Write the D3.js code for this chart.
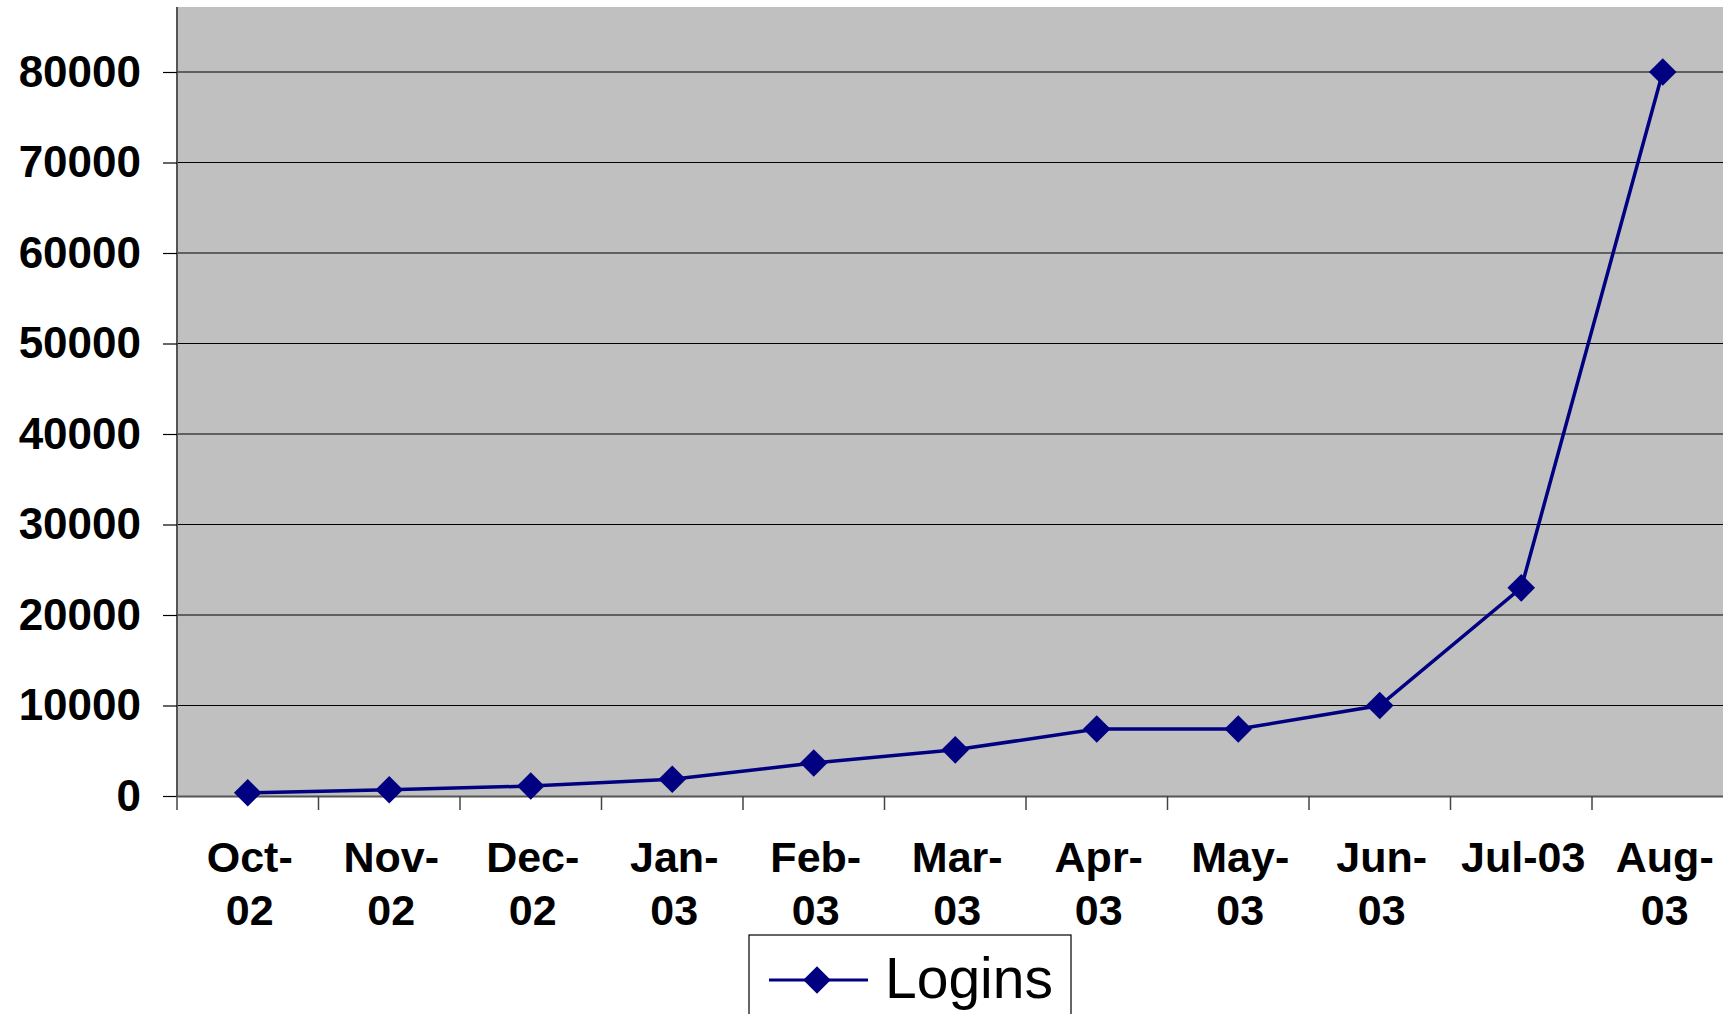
<!DOCTYPE html>
<html>
<head>
<meta charset="utf-8">
<script src="https://d3js.org/d3.v7.min.js"></script>
<style>
  body { margin: 0; background: #fff; }
  svg { display: block; }
</style>
</head>
<body>
<div id="chart"></div>
<script>
// Chart data
const months = ["Oct-02", "Nov-02", "Dec-02", "Jan-03", "Feb-03", "Mar-03",
                "Apr-03", "May-03", "Jun-03", "Jul-03", "Aug-03"];
const monthLabels = [["Oct-", "02"], ["Nov-", "02"], ["Dec-", "02"], ["Jan-", "03"],
                     ["Feb-", "03"], ["Mar-", "03"], ["Apr-", "03"], ["May-", "03"],
                     ["Jun-", "03"], ["Jul-03"], ["Aug-", "03"]];
const logins = [350, 700, 1100, 1850, 3650, 5100, 7400, 7400, 10000, 23000, 80000];
const yTicks = [0, 10000, 20000, 30000, 40000, 50000, 60000, 70000, 80000];
const seriesName = "Logins";

// Layout
const width = 1723;
const height = 1014;
const plotLeft = 177;
const plotTop = 7;
const bandStep = 141.5;
const plotRight = plotLeft + months.length * bandStep;
const plotBottom = 796;
const lineColor = "#000080";
const labelFont = "'Liberation Sans', Arial, sans-serif";

const svg = d3.select("#chart")
    .append("svg")
    .attr("width", width)
    .attr("height", height);

const x = d3.scaleBand()
    .domain(months)
    .range([plotLeft, plotRight])
    .padding(0);

const y = d3.scaleLinear()
    .domain([0, 80000])
    .range([plotBottom, 72]);

// Plot background
svg.append("rect")
    .attr("x", plotLeft)
    .attr("y", plotTop)
    .attr("width", plotRight - plotLeft)
    .attr("height", plotBottom - plotTop)
    .style("fill", "#c0c0c0");

// Gridlines
svg.append("g")
    .selectAll("line")
    .data(yTicks.filter(d => d > 0))
    .enter()
    .append("line")
    .attr("x1", plotLeft)
    .attr("x2", plotRight)
    .attr("y1", d => y(d))
    .attr("y2", d => y(d))
    .style("stroke", "#000")
    .style("stroke-width", 1.2);

// Y axis
const yAxis = svg.append("g")
    .attr("transform", `translate(${plotLeft},0)`)
    .call(d3.axisLeft(y).tickValues(yTicks).tickSize(14).tickPadding(22).tickFormat(d3.format("d")));
yAxis.select(".domain")
    .attr("d", `M0,${plotTop}V${plotBottom}`)
    .style("stroke", "#555")
    .style("stroke-width", 2);
yAxis.selectAll(".tick line").style("stroke", "#000").style("stroke-width", 1.2);
yAxis.selectAll(".tick text")
    .style("font-family", labelFont)
    .style("font-weight", "bold")
    .style("font-size", "44px")
    .style("fill", "#000");

// X axis
const xAxis = svg.append("g")
    .attr("transform", `translate(0,${plotBottom})`)
    .call(d3.axisBottom(x).tickSize(0).tickFormat(""));
xAxis.select(".domain")
    .style("stroke", "#555")
    .style("stroke-width", 2);
xAxis.selectAll(".tick").remove();

// Category boundary ticks
svg.append("g")
    .selectAll("line")
    .data(months)
    .enter()
    .append("line")
    .attr("x1", d => x(d))
    .attr("x2", d => x(d))
    .attr("y1", plotBottom)
    .attr("y2", plotBottom + 14)
    .style("stroke", "#444")
    .style("stroke-width", 1.5);

// Category labels (two lines)
const labels = svg.append("g")
    .selectAll("text")
    .data(months)
    .enter()
    .append("text")
    .attr("text-anchor", "middle")
    .style("font-family", labelFont)
    .style("font-weight", "bold")
    .style("font-size", "43px")
    .style("fill", "#000");

labels.each(function (d, i) {
    const t = d3.select(this);
    monthLabels[i].forEach((line, j) => {
        t.append("tspan")
            .attr("x", x(d) + x.bandwidth() / 2 + 2)
            .attr("y", 872 + j * 53)
            .text(line);
    });
});

// Line
const line = d3.line()
    .x((d, i) => x(months[i]) + x.bandwidth() / 2)
    .y(d => y(d));

svg.append("path")
    .datum(logins)
    .attr("d", line)
    .style("fill", "none")
    .style("stroke", lineColor)
    .style("stroke-width", 3.5);

// Diamond markers
const diamond = d3.symbol().type(d3.symbolSquare).size(380);
svg.append("g")
    .selectAll("path")
    .data(logins)
    .enter()
    .append("path")
    .attr("d", diamond)
    .attr("transform", (d, i) => `translate(${x(months[i]) + x.bandwidth() / 2},${y(d)}) rotate(45)`)
    .style("fill", lineColor);

// Legend
const legend = svg.append("g");
legend.append("rect")
    .attr("x", 749)
    .attr("y", 935)
    .attr("width", 322)
    .attr("height", 100)
    .style("fill", "#fff")
    .style("stroke", "#000")
    .style("stroke-width", 1.2);
legend.append("line")
    .attr("x1", 769)
    .attr("x2", 868)
    .attr("y1", 980)
    .attr("y2", 980)
    .style("stroke", lineColor)
    .style("stroke-width", 3);
legend.append("path")
    .attr("d", diamond)
    .attr("transform", "translate(817,980) rotate(45)")
    .style("fill", lineColor);
legend.append("text")
    .attr("x", 885)
    .attr("y", 998)
    .style("font-family", labelFont)
    .style("font-size", "57px")
    .style("fill", "#000")
    .text(seriesName);
</script>
</body>
</html>
